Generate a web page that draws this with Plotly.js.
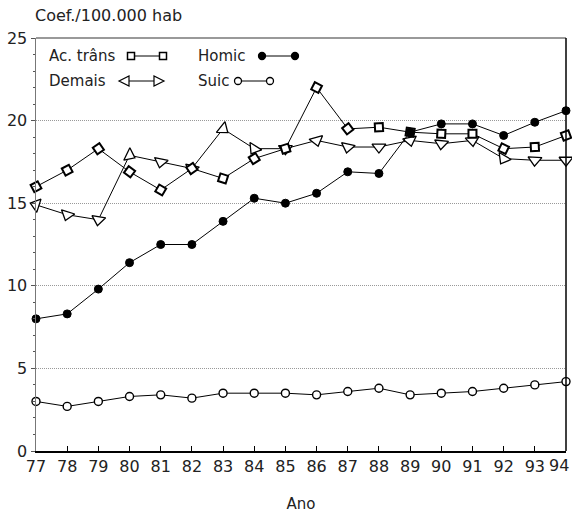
<!DOCTYPE html>
<html><head><meta charset="utf-8">
<script src="https://cdn.plot.ly/plotly-3.0.1.min.js"></script>
<style>html,body{margin:0;padding:0;background:#fff}#chart{width:572px;height:513px}</style>
</head><body><div id="chart"></div>
<script>
const years = [77,78,79,80,81,82,83,84,85,86,87,88,89,90,91,92,93,94];
const acTrans = [16.0,17.0,18.3,16.9,15.8,17.1,16.5,17.7,18.3,22.0,19.5,19.6,19.3,19.2,19.2,18.3,18.4,19.1];
const homic   = [8.0,8.3,9.8,11.4,12.5,12.5,13.9,15.3,15.0,15.6,16.9,16.8,19.3,19.8,19.8,19.1,19.9,20.6];
const demais  = [14.9,14.3,14.0,17.9,17.5,17.1,19.5,18.3,18.3,18.8,18.4,18.4,18.8,18.6,18.8,17.7,17.6,17.6];
const suic    = [3.0,2.7,3.0,3.3,3.4,3.2,3.5,3.5,3.5,3.4,3.6,3.8,3.4,3.5,3.6,3.8,4.0,4.2];
const seriesNames = ["Ac. trâns","Homic","Demais","Suic"];
const yAxisLabel = "Coef./100.000 hab";
const xAxisLabel = "Ano";
const yTicks = [0,5,10,15,20,25];
const xRange = [77,94], yRange = [0,25];

const FONT = "DejaVu Sans, Verdana, sans-serif";
const W = 572, H = 513, M = {l:36, r:6, t:38, b:62};
const PW = W - M.l - M.r, PH = H - M.t - M.b;
const px = x => (x - M.l) / PW;
const py = y => (H - M.b - y) / PH;
const kX = PW / (xRange[1] - xRange[0]), kY = PH / (yRange[1] - yRange[0]);
// screen angle (deg, clockwise) of the direction from point a to point b
const dirAngle = (xa, ya, xb, yb) => Math.atan2(-(yb - ya) * kY, (xb - xa) * kX) * 180 / Math.PI;

const last = years.length - 1;
// the last tick label is drawn as an annotation nudged left so it stays inside the picture
const xTickText = years.map((v, i) => i === last ? '' : String(v));

const lineStyle = {color:'#000', width:1};
const sqMarker = {symbol:'square', size:8, color:'#fff', line:{color:'#000', width:2}};
const triMarker = {symbol:'triangle-right', size:12, color:'#fff', line:{color:'#000', width:1.3}};
const traces = [
  {x: years, y: suic, name: seriesNames[3], mode:'lines+markers', line: lineStyle, cliponaxis:false,
   marker:{symbol:'circle', size:8, color:'#fff', line:{color:'#000', width:1.4}}},
  {x: years, y: demais, name: seriesNames[2], mode:'lines+markers', line: lineStyle, cliponaxis:false,
   marker:Object.assign({angleref:'previous'}, triMarker)},
  {x: [years[0]], y: [demais[0]], mode:'markers', cliponaxis:false,
   marker:Object.assign({angle: dirAngle(years[1], demais[1], years[0], demais[0])}, triMarker)},
  {x: years, y: acTrans, name: seriesNames[0], mode:'lines+markers', line: lineStyle, cliponaxis:false,
   marker:Object.assign({angleref:'previous'}, sqMarker)},
  {x: [years[0]], y: [acTrans[0]], mode:'markers', cliponaxis:false,
   marker:Object.assign({angle: dirAngle(years[0], acTrans[0], years[1], acTrans[1])}, sqMarker)},
  {x: years, y: homic, name: seriesNames[1], mode:'lines+markers', line: lineStyle, cliponaxis:false,
   marker:{symbol:'circle', size:8, color:'#000', line:{color:'#000', width:1}}}
];

// custom legend (text left, glyph right)
const legendItems = [
  {name: seriesNames[0], tx:47, ty:56, gx0:131, gx1:163, glyph:'square'},
  {name: seriesNames[1], tx:196, ty:56, gx0:262, gx1:295, glyph:'dot'},
  {name: seriesNames[2], tx:47, ty:81, gx0:124, gx1:159, glyph:'tri'},
  {name: seriesNames[3], tx:196, ty:81, gx0:238, gx1:270, glyph:'ring'}
];
const shapes = [
  {type:'line', xref:'paper', yref:'paper', x0:0, x1:1, y0:1, y1:1, line:{color:'#777', width:1.5}},
  {type:'line', xref:'paper', yref:'paper', x0:1, x1:1, y0:0, y1:1, line:{color:'#000', width:1.5}}
];
const annotations = [
  {text: yAxisLabel, xref:'paper', yref:'paper', x:px(33), y:py(15), xanchor:'left', yanchor:'middle',
   showarrow:false, font:{family:FONT, size:16, color:'#222'}},
  {text: String(years[last]), xref:'x', yref:'paper', x: years[last], y:py(465.5), xanchor:'center', yanchor:'middle',
   xshift:-7, showarrow:false, font:{family:FONT, size:16, color:'#222'}}
];
legendItems.forEach(it => {
  annotations.push({text: it.name, xref:'paper', yref:'paper', x:px(it.tx), y:py(it.ty), xanchor:'left', yanchor:'middle',
    showarrow:false, font:{family:FONT, size:15, color:'#222'}});
  shapes.push({type:'line', xref:'paper', yref:'paper', x0:px(it.gx0), x1:px(it.gx1), y0:py(it.ty), y1:py(it.ty), line:{color:'#000', width:1}});
  [it.gx0, it.gx1].forEach((gx, i) => {
    const r = 3.5;
    if (it.glyph === 'square') {
      shapes.push({type:'rect', xref:'paper', yref:'paper', x0:px(gx-r), x1:px(gx+r), y0:py(it.ty+r), y1:py(it.ty-r),
        fillcolor:'#fff', line:{color:'#000', width:1.5}});
    } else if (it.glyph === 'dot' || it.glyph === 'ring') {
      shapes.push({type:'circle', xref:'paper', yref:'paper', x0:px(gx-r), x1:px(gx+r), y0:py(it.ty+r), y1:py(it.ty-r),
        fillcolor: it.glyph === 'dot' ? '#000' : '#fff', line:{color:'#000', width:1.3}});
    } else {
      const s = i === 0 ? -1 : 1, h = 5, w = 10;
      const tip = gx + s*w/2, back = gx - s*w/2;
      shapes.push({type:'path', xref:'paper', yref:'paper',
        path: `M ${px(tip)} ${py(it.ty)} L ${px(back)} ${py(it.ty-h)} L ${px(back)} ${py(it.ty+h)} Z`,
        fillcolor:'#fff', line:{color:'#000', width:1.2}});
    }
  });
});

const layout = {
  width: W, height: H, margin: M, showlegend:false,
  paper_bgcolor:'#fff', plot_bgcolor:'#fff',
  font:{family:FONT, size:15, color:'#222'},
  xaxis:{range:xRange, tickvals: years, ticktext: xTickText, ticks:'inside', ticklen:5, tickwidth:1,
    tickcolor:'#000', showline:true, linecolor:'#000', linewidth:1.5, showgrid:false, zeroline:false,
    automargin:false,
    tickfont:{family:FONT, size:16, color:'#222'},
    title:{text:xAxisLabel, font:{family:FONT, size:15, color:'#222'}, standoff:25}},
  yaxis:{range:yRange, tickvals: yTicks, ticks:'outside', ticklen:4, tickcolor:'#555', tickwidth:1,
    showline:true, linecolor:'#777', linewidth:1.5, showgrid:true, gridcolor:'#999', griddash:'1px,1px', gridwidth:1,
    zeroline:false, tickfont:{family:FONT, size:16, color:'#222'}, automargin:false,
    minor:{dtick:1, ticks:'outside', ticklen:2, tickcolor:'#555', showgrid:false}},
  shapes, annotations
};
Plotly.newPlot('chart', traces, layout, {displayModeBar:false, staticPlot:true});
</script></body></html>
